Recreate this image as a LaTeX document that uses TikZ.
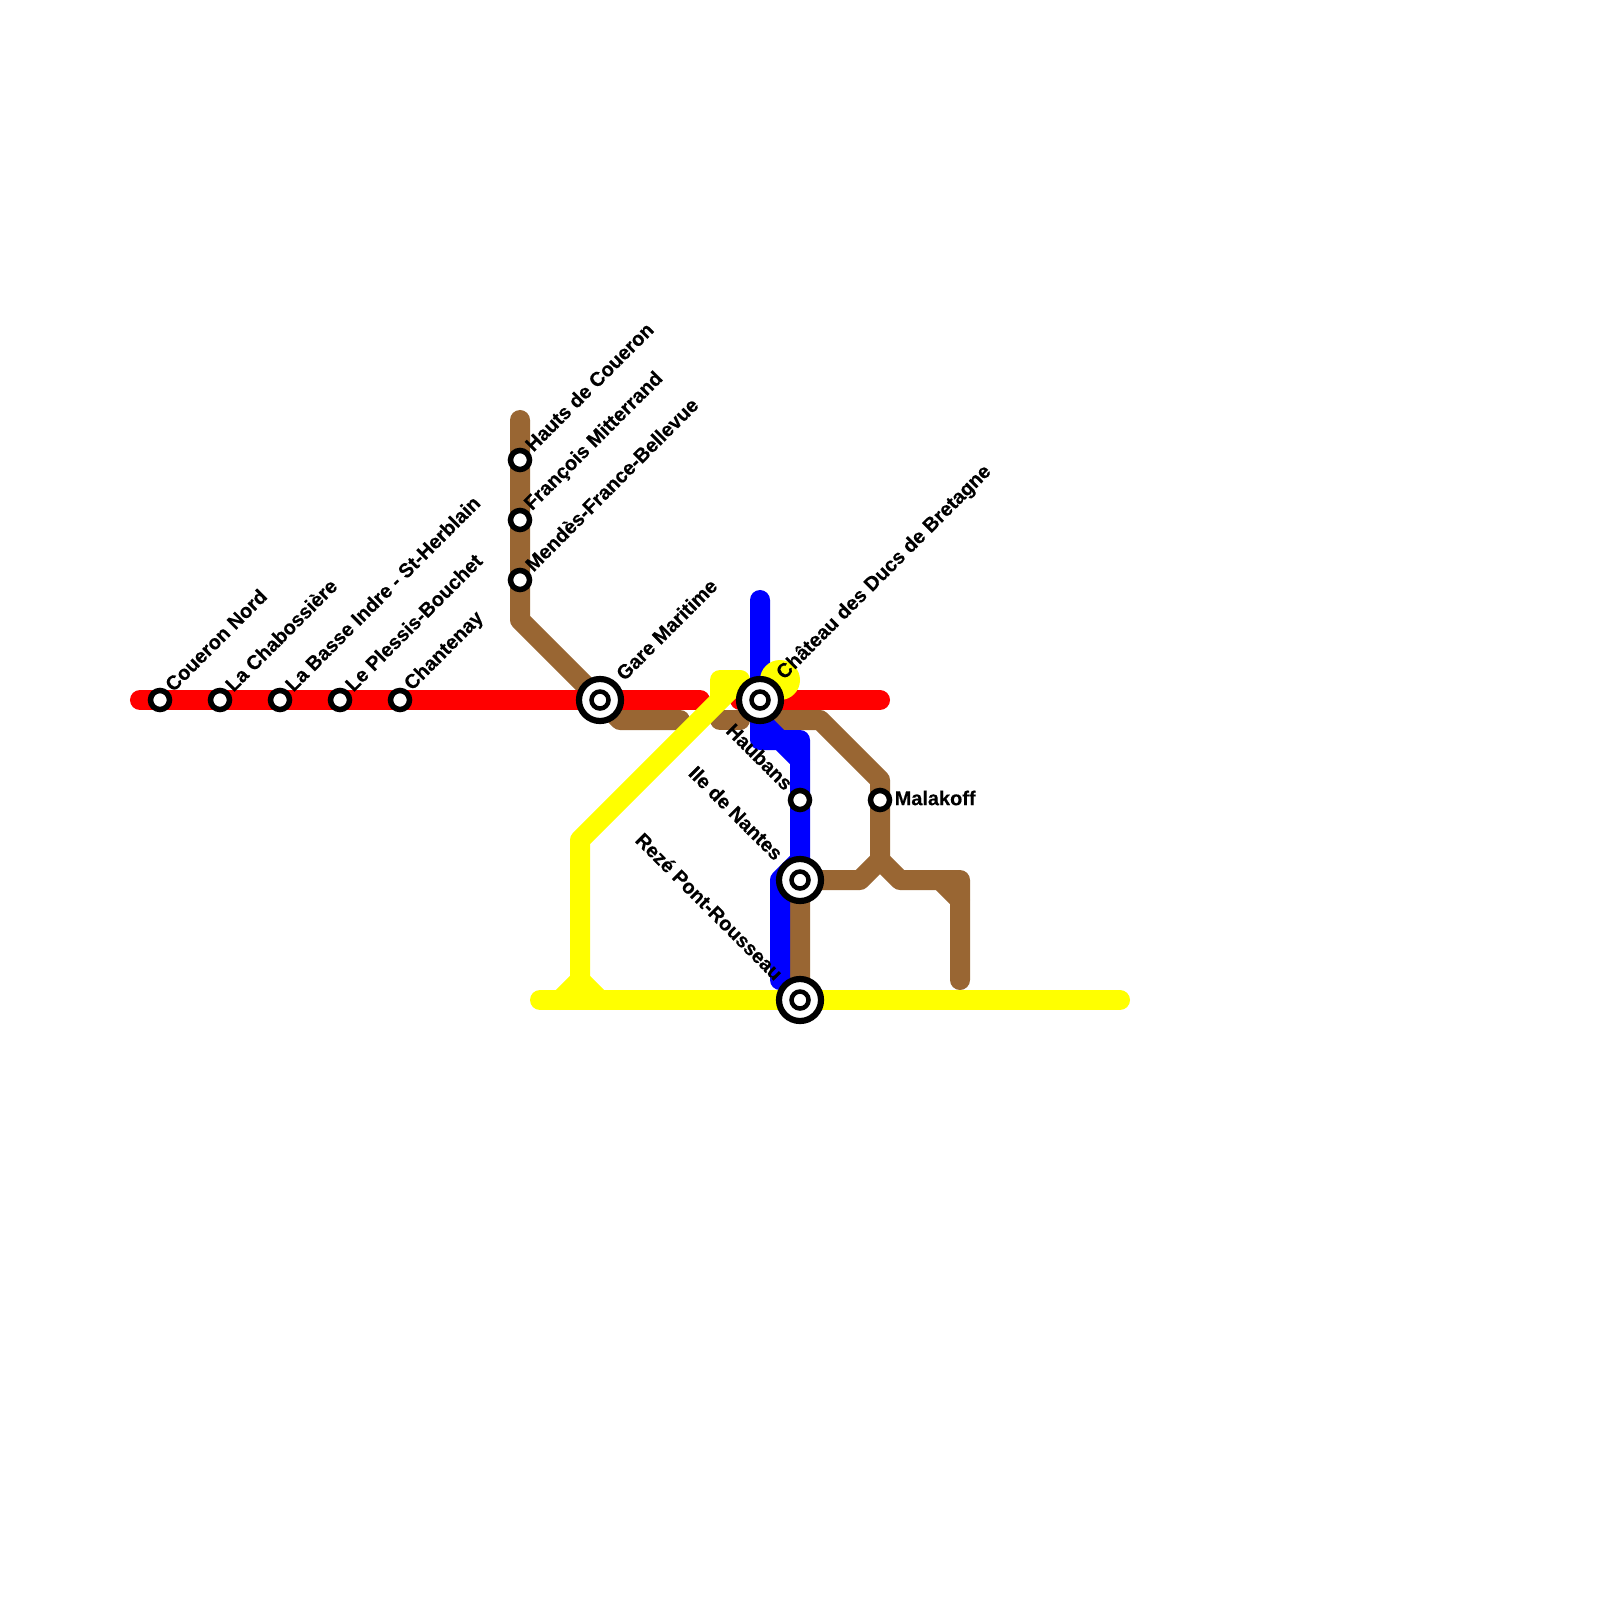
\documentclass[tikz,border=0pt]{standalone}
\usepackage{fontspec}
\setmainfont[BoldFeatures={FakeBold=0.3}]{Liberation Sans}
\usepackage{xcolor}
\definecolor{MetroRed}{RGB}{255,0,0}
\definecolor{MetroBlue}{RGB}{0,0,255}
\definecolor{MetroYellow}{RGB}{255,255,0}
\definecolor{MetroBrown}{RGB}{153,102,51}
\begin{document}
\begin{tikzpicture}[
  x=0.01cm,y=-0.01cm,
  route/.style={line width=2mm,line cap=round,line join=round},
  stop/.style={circle,draw=black,fill=white,line width=0.55mm,minimum size=1.9mm,inner sep=0pt,outer sep=0pt},
  hub/.style={circle,draw=black,fill=white,line width=0.62mm,minimum size=4.2mm,inner sep=0pt,outer sep=0pt},
  hubcore/.style={circle,draw=black,fill=white,line width=0.45mm,minimum size=1.7mm,inner sep=0pt,outer sep=0pt},
  uplabel/.style={rotate=45,anchor=west,inner sep=0pt,font=\fontsize{5.67pt}{7pt}\selectfont\bfseries},
  downlabel/.style={rotate=-45,anchor=east,inner sep=0pt,font=\fontsize{5.67pt}{7pt}\selectfont\bfseries},
]
\useasboundingbox (0,0) rectangle (1600,1600);
% brown line
\draw[route,MetroBrown] (520,420) -- (520,620) -- (600,700) -- (620,720) -- (680,720);
\draw[route,MetroBrown] (720,720) -- (740,720);
\draw[route,MetroBrown] (760,700) -- (780,720) -- (820,720) -- (880,780) -- (880,860) -- (860,880) -- (800,880) -- (800,1000);
\draw[route,MetroBrown] (880,860) -- (900,880) -- (960,880) -- (960,980);
\draw[route,MetroBrown] (940,880) -- (960,900);
% blue line
\draw[route,MetroBlue] (760,600) -- (760,740) -- (780,740) -- (800,760) -- (800,880);
\draw[route,MetroBlue] (760,720) -- (780,740) -- (800,740) -- (800,760);
\draw[route,MetroBlue] (800,860) -- (780,880) -- (780,980);
% red line
\draw[route,MetroRed] (140,700) -- (700,700);
\draw[route,MetroRed] (740,700) -- (880,700);
% yellow line
\fill[MetroYellow] (780,680) circle (20);
\draw[route,MetroYellow] (720,700) -- (720,680) -- (740,680) -- (580,840) -- (580,980) -- (560,1000);
\draw[route,MetroYellow] (580,980) -- (600,1000);
\draw[route,MetroYellow] (540,1000) -- (1120,1000);
% stations
\node[stop] (coueron) at (160,700) {};
\node[stop] (chabossiere) at (220,700) {};
\node[stop] (basseindre) at (280,700) {};
\node[stop] (plessis) at (340,700) {};
\node[stop] (chantenay) at (400,700) {};
\node[stop] (hauts) at (520,460) {};
\node[stop] (mitterrand) at (520,520) {};
\node[stop] (mendes) at (520,580) {};
\node[stop] (haubans) at (800,800) {};
\node[stop] (malakoff) at (880,800) {};
\node[hub] (gare) at (600,700) {};
\node[hubcore] (garecore) at (600,700) {};
\node[hub] (chateau) at (760,700) {};
\node[hubcore] (chateaucore) at (760,700) {};
\node[hub] (ile) at (800,880) {};
\node[hubcore] (ilecore) at (800,880) {};
\node[hub] (reze) at (800,1000) {};
\node[hubcore] (rezecore) at (800,1000) {};
% labels
\node[uplabel] (couerontxt) at (168,688) {Coueron Nord};
\node[uplabel] (chabossieretxt) at (228,688) {La Chabossière};
\node[uplabel] (basseindretxt) at (288,688) {La Basse Indre - St-Herblain};
\node[uplabel] (plessistxt) at (348,688) {Le Plessis-Bouchet};
\node[uplabel] (chantenaytxt) at (408,688) {Chantenay};
\node[uplabel] (hautstxt) at (528,448) {Hauts de Coueron};
\node[uplabel] (mitterrandtxt) at (528,508) {François Mitterrand};
\node[uplabel] (mendestxt) at (528,568) {Mendès-France-Bellevue};
\node[uplabel] (garetxt) at (619,677) {Gare Maritime};
\node[uplabel] (chateautxt) at (780,677) {Château des Ducs de Bretagne};
\node[downlabel] (haubanstxt) at (790,787) {Haubans};
\node[downlabel] (iletxt) at (780,857) {Ile de Nantes};
\node[downlabel] (rezetxt) at (780,977) {Rezé Pont-Rousseau};
\node[anchor=west,inner sep=0pt,font=\fontsize{5.67pt}{7pt}\selectfont\bfseries] (malakofftxt) at (894,798) {Malakoff};
\end{tikzpicture}
\end{document}
